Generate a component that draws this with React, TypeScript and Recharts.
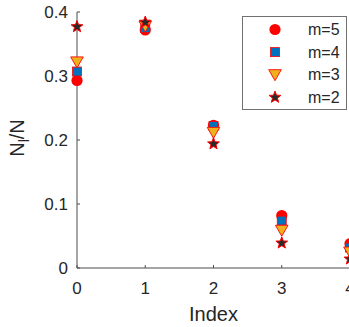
import { Label, Legend, Scatter, ScatterChart, XAxis, YAxis } from "recharts";

const index = [0, 1, 2, 3, 4];
const m5 = [0.293, 0.372, 0.223, 0.082, 0.038];
const m4 = [0.307, 0.375, 0.222, 0.074, 0.032];
const m3 = [0.322, 0.378, 0.212, 0.059, 0.025];
const m2 = [0.377, 0.384, 0.194, 0.039, 0.014];
const xTicks = [0, 1, 2, 3, 4];
const yTicks = [0, 0.1, 0.2, 0.3, 0.4];

const FONT = "'Liberation Sans', Arial, Helvetica, sans-serif";
const INK = "#262626";
const RED = "#ff0000";

const toPoints = (ys: number[]) => index.map((x, i) => ({ x, y: ys[i] }));

const circleMark = (cx: number, cy: number) => (
  <circle cx={cx} cy={cy} r={5.6} fill={RED} />
);
const squareMark = (cx: number, cy: number) => (
  <rect x={cx - 4.5} y={cy - 4.5} width={9} height={9} fill="#0072bd" stroke={RED} strokeWidth={0.8} />
);
const triMark = (cx: number, cy: number) => (
  <polygon
    points={`${cx - 6.3},${cy - 5} ${cx + 6.3},${cy - 5} ${cx},${cy + 6}`}
    fill="#edb120"
    stroke={RED}
    strokeWidth={0.9}
  />
);
const starMark = (cx: number, cy: number) => {
  const pts: string[] = [];
  for (let k = 0; k < 10; k++) {
    const r = k % 2 === 0 ? 6.2 : 2.6;
    const a = -Math.PI / 2 + (k * Math.PI) / 5;
    pts.push(`${cx + r * Math.cos(a)},${cy + r * Math.sin(a)}`);
  }
  return <polygon points={pts.join(" ")} fill="#2a2a2a" stroke={RED} strokeWidth={1} />;
};

const series = [
  { name: "m=5", values: m5, mark: circleMark },
  { name: "m=4", values: m4, mark: squareMark },
  { name: "m=3", values: m3, mark: triMark },
  { name: "m=2", values: m2, mark: starMark },
];

function LegendBox() {
  return (
    <svg width={105} height={94} style={{ display: "block" }}>
      <rect x={0.5} y={0.5} width={104} height={93} fill="#fff" stroke="#707070" strokeWidth={1} />
      {series.map((s, i) => {
        const cy = 13.5 + i * 22.6;
        return (
          <g key={s.name}>
            {s.mark(33, cy)}
            <text x={66} y={cy} dy="0.35em" fontSize={16} fontFamily={FONT} fill={INK}>
              {s.name}
            </text>
          </g>
        );
      })}
    </svg>
  );
}

function YLabel(props: any) {
  const vb = props.viewBox || {};
  const cy = (vb.y ?? 12) + (vb.height ?? 256) / 2 - 2;
  const x = 24;
  return (
    <text
      x={x}
      y={cy}
      transform={`rotate(-90 ${x} ${cy})`}
      textAnchor="middle"
      fontSize={20}
      fontFamily={FONT}
      fill={INK}
    >
      N
      <tspan dy="0.35em" fontSize={14}>l</tspan>
      <tspan dy="-0.25em">/N</tspan>
    </text>
  );
}

export default function App() {
  return (
    <div
      style={{
        position: "absolute",
        left: 0,
        top: 0,
        width: 349,
        height: 327,
        overflow: "hidden",
        background: "#fff",
      }}
    >
      <ScatterChart width={360} height={327} margin={{ top: 12, right: 10, left: 0, bottom: 0 }}>
        <XAxis
          type="number"
          dataKey="x"
          domain={[0, 4]}
          ticks={xTicks}
          interval={0}
          height={59}
          tick={{ fill: INK, fontSize: 17, fontFamily: FONT }}
          tickSize={-3}
          tickMargin={17}
          tickLine={{ stroke: "#4d4d4d" }}
          axisLine={{ stroke: "#4d4d4d" }}
        >
          <Label
            value="Index"
            position="insideBottom"
            offset={6}
            fontSize={20}
            fontFamily={FONT}
            fill={INK}
          />
        </XAxis>
        <YAxis
          type="number"
          dataKey="y"
          domain={[0, 0.4]}
          ticks={yTicks}
          interval={0}
          width={77}
          tick={{ fill: INK, fontSize: 17, fontFamily: FONT }}
          tickSize={-3}
          tickMargin={12}
          tickLine={{ stroke: "#4d4d4d" }}
          axisLine={{ stroke: "#4d4d4d" }}
          tickFormatter={(v: number) => (v === 0 ? "0" : String(v))}
          label={<YLabel />}
        />
        <Legend
          layout="vertical"
          align="center"
          verticalAlign="middle"
          content={<LegendBox />}
          wrapperStyle={{ position: "absolute", left: 242, top: 16, width: 105, height: 94 }}
        />
        {series.map((s) => (
          <Scatter
            key={s.name}
            name={s.name}
            data={toPoints(s.values)}
            isAnimationActive={false}
            shape={(p: any) => s.mark(p.cx, p.cy)}
          />
        ))}
      </ScatterChart>
    </div>
  );
}
